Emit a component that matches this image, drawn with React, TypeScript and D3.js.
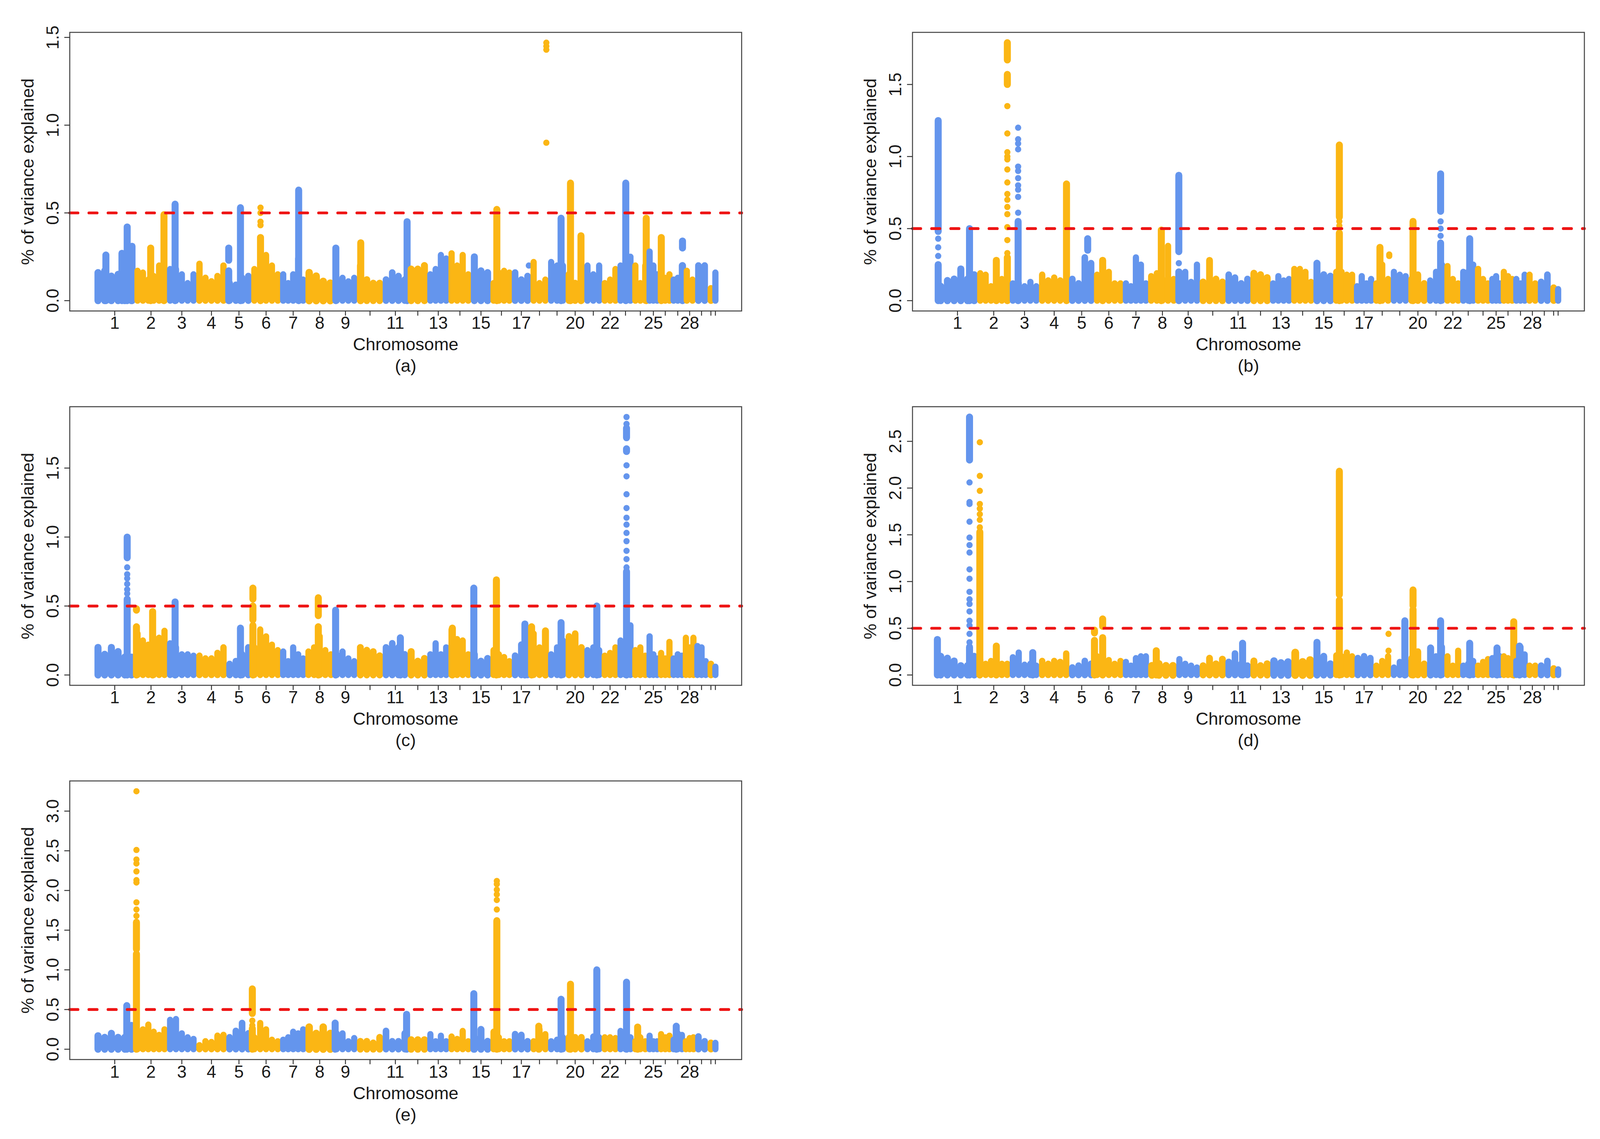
import * as d3 from 'd3';

// chromosome widths along the x axis (marker index units), chr 1..31
const chrWidths = [103, 83, 75, 77, 64, 75, 64, 72, 60, 66, 64, 51, 54, 57, 51, 54, 48, 45, 45, 48, 45, 41, 38, 38, 29, 32, 32, 29, 32, 16, 7];
const shownLabels = [1, 2, 3, 4, 5, 6, 7, 8, 9, 11, 13, 15, 17, 20, 22, 25, 28];
const threshold = 0.5;

// band heights: evenly spaced columns inside each chromosome
const bandA = [
  [0.16, 0.17, 0.14, 0.15, 0.17, 0.16], [0.17, 0.16, 0.12, 0.14, 0.2, 0.17], [0.18, 0.18, 0.15, 0.1, 0.15],
  [0.21, 0.13, 0.11, 0.14, 0.2], [0.1, 0.09, 0.13, 0.14], [0.18, 0.24, 0.26, 0.2, 0.15], [0.15, 0.1, 0.15, 0.24, 0.12],
  [0.16, 0.14, 0.11, 0.1], [0.12, 0.13, 0.11, 0.13], [0.2, 0.12, 0.1, 0.1], [0.12, 0.16, 0.14, 0.12], [0.18, 0.18, 0.2],
  [0.15, 0.18, 0.26, 0.24], [0.27, 0.2, 0.26, 0.15], [0.25, 0.17, 0.16], [0.1, 0.16, 0.17, 0.16], [0.16, 0.12, 0.14],
  [0.22, 0.1, 0.12], [0.22, 0.2, 0.2], [0.15, 0.1, 0.15], [0.2, 0.15, 0.2], [0.1, 0.12, 0.18], [0.2, 0.18, 0.25],
  [0.2, 0.1, 0.2], [0.28, 0.2, 0.15], [0.15, 0.13, 0.15], [0.12, 0.13, 0.2], [0.17, 0.12], [0.2, 0.2], [0.07], [0.16],
];
const bandB = [
  [0.1, 0.14, 0.15, 0.22, 0.15, 0.18], [0.19, 0.18, 0.1, 0.15, 0.15, 0.12], [0.12, 0.12, 0.1, 0.13, 0.1],
  [0.18, 0.14, 0.16, 0.14, 0.15], [0.15, 0.12, 0.3, 0.26], [0.18, 0.24, 0.2, 0.12, 0.12], [0.12, 0.1, 0.3, 0.25, 0.12],
  [0.17, 0.19, 0.15, 0.38, 0.15], [0.2, 0.2, 0.13, 0.25], [0.13, 0.28, 0.15, 0.13], [0.18, 0.16, 0.12, 0.15], [0.19, 0.18, 0.16],
  [0.12, 0.17, 0.14, 0.15], [0.22, 0.22, 0.2, 0.13], [0.1, 0.18, 0.17], [0.2, 0.2, 0.18, 0.18], [0.1, 0.17, 0.12, 0.15],
  [0.12, 0.25, 0.15], [0.2, 0.18, 0.17], [0.15, 0.18, 0.12], [0.14, 0.2, 0.25], [0.24, 0.15, 0.12], [0.2, 0.2, 0.25],
  [0.22, 0.15, 0.12], [0.15, 0.17, 0.12], [0.2, 0.17, 0.15], [0.15, 0.12, 0.18], [0.18, 0.12], [0.13, 0.18], [0.09], [0.08],
];
const bandC = [
  [0.2, 0.15, 0.2, 0.17, 0.13, 0.13], [0.3, 0.25, 0.22, 0.27, 0.27, 0.32], [0.23, 0.2, 0.15, 0.15, 0.14],
  [0.14, 0.12, 0.12, 0.16, 0.2], [0.08, 0.1, 0.15, 0.2], [0.2, 0.33, 0.28, 0.22, 0.18], [0.17, 0.1, 0.2, 0.15, 0.12],
  [0.17, 0.2, 0.28, 0.18, 0.15], [0.15, 0.17, 0.12, 0.1], [0.2, 0.18, 0.17, 0.14], [0.2, 0.23, 0.2, 0.15], [0.17, 0.1, 0.12],
  [0.15, 0.23, 0.15, 0.2], [0.33, 0.26, 0.25, 0.15], [0.15, 0.1, 0.12], [0.18, 0.15, 0.13, 0.1], [0.14, 0.22, 0.18],
  [0.3, 0.2, 0.3], [0.15, 0.2, 0.25], [0.28, 0.3, 0.2], [0.18, 0.2, 0.18], [0.14, 0.16, 0.2], [0.25, 0.2, 0.36],
  [0.18, 0.2, 0.14], [0.28, 0.15, 0.12], [0.16, 0.12, 0.24], [0.12, 0.15, 0.14], [0.27, 0.2, 0.27], [0.21, 0.2, 0.1], [0.08], [0.06],
];
const bandD = [
  [0.2, 0.18, 0.15, 0.1, 0.1, 0.2], [0.16, 0.12, 0.15, 0.12, 0.12, 0.12], [0.19, 0.24, 0.11, 0.12, 0.1],
  [0.15, 0.12, 0.15, 0.14, 0.23], [0.08, 0.1, 0.15, 0.12], [0.2, 0.2, 0.16, 0.12, 0.15], [0.14, 0.1, 0.18, 0.2, 0.2],
  [0.1, 0.12, 0.1, 0.1], [0.17, 0.12, 0.1, 0.08], [0.1, 0.18, 0.12, 0.17], [0.14, 0.23, 0.12, 0.1], [0.15, 0.1, 0.12],
  [0.15, 0.13, 0.14], [0.24, 0.14, 0.16], [0.12, 0.2, 0.12], [0.21, 0.2, 0.24, 0.2], [0.18, 0.2, 0.18],
  [0.1, 0.15, 0.2], [0.08, 0.14, 0.15], [0.18, 0.25, 0.12], [0.12, 0.2, 0.3], [0.2, 0.1, 0.26], [0.1, 0.12, 0.15],
  [0.1, 0.14, 0.17], [0.18, 0.2, 0.2], [0.2, 0.18, 0.15], [0.15, 0.3, 0.22], [0.1, 0.1], [0.1, 0.15], [0.07], [0.06],
];
const bandE = [
  [0.17, 0.15, 0.2, 0.15, 0.15, 0.3], [0.2, 0.25, 0.31, 0.22, 0.18, 0.25], [0.37, 0.38, 0.2, 0.15, 0.13],
  [0.05, 0.1, 0.09, 0.17, 0.18], [0.15, 0.23, 0.33, 0.2], [0.15, 0.33, 0.25, 0.12, 0.1], [0.12, 0.15, 0.22, 0.2, 0.25],
  [0.28, 0.2, 0.28, 0.2], [0.2, 0.2, 0.1, 0.14], [0.1, 0.1, 0.08, 0.15], [0.23, 0.1, 0.1, 0.2], [0.12, 0.12, 0.12],
  [0.19, 0.1, 0.17, 0.1], [0.16, 0.13, 0.23, 0.1], [0.15, 0.25, 0.1], [0.22, 0.15, 0.1, 0.1], [0.19, 0.18, 0.1],
  [0.1, 0.25, 0.19], [0.1, 0.12, 0.15], [0.15, 0.15, 0.15], [0.1, 0.16, 0.15], [0.15, 0.15, 0.14], [0.23, 0.2, 0.15],
  [0.1, 0.15, 0.1], [0.17, 0.1, 0.1], [0.19, 0.15, 0.17], [0.12, 0.2, 0.18], [0.1, 0.14, 0.15], [0.16, 0.1], [0.08], [0.08],
];

// runs of stacked markers: [chromosome, position within chromosome, from, to]
const runsA = [
  [1, 0.28, 0, 0.26], [1, 0.68, 0, 0.27], [1, 0.81, 0, 0.42], [1, 0.93, 0, 0.31], [2, 0.49, 0, 0.3], [2, 0.9, 0, 0.49],
  [3, 0.27, 0, 0.55], [5, 0.09, 0, 0.17], [5, 0.09, 0.23, 0.3], [5, 0.56, 0, 0.53], [6, 0.31, 0, 0.36], [7, 0.72, 0, 0.63],
  [9, 0.09, 0, 0.3], [10, 0.14, 0, 0.33], [11, 0.97, 0, 0.45], [16, 0.28, 0, 0.52], [19, 0.73, 0, 0.47], [20, 0.25, 0, 0.67],
  [20, 0.81, 0, 0.37], [23, 0.52, 0, 0.67], [24, 0.9, 0, 0.47], [26, 0.18, 0, 0.36], [27, 0.88, 0, 0.2], [27, 0.88, 0.3, 0.34],
];
const runsB = [
  [1, 0.02, 0, 0.25], [1, 0.02, 0.48, 1.25], [1, 0.8, 0, 0.5], [2, 0.58, 0, 0.28], [2, 0.92, 0, 0.3], [2, 0.92, 1.5, 1.57],
  [2, 0.92, 1.67, 1.79], [3, 0.28, 0, 0.55], [4, 0.91, 0, 0.81], [5, 0.74, 0.35, 0.43], [6, 0.29, 0, 0.28], [8, 0.46, 0, 0.49],
  [9, 0.1, 0, 0.2], [9, 0.1, 0.34, 0.87], [15, 0.16, 0, 0.26], [16, 0.27, 0, 0.47], [16, 0.27, 0.58, 1.08], [18, 0.37, 0, 0.37],
  [20, 0.24, 0, 0.55], [21, 0.76, 0, 0.4], [21, 0.76, 0.62, 0.88], [23, 0.6, 0, 0.43],
];
const runsC = [
  [1, 0.81, 0, 0.55], [1, 0.81, 0.85, 1.0], [2, 0.05, 0, 0.35], [2, 0.05, 0.47, 0.48], [2, 0.55, 0, 0.46], [3, 0.27, 0, 0.53],
  [5, 0.56, 0, 0.34], [6, 0.05, 0, 0.36], [6, 0.05, 0.4, 0.5], [6, 0.05, 0.55, 0.63], [8, 0.45, 0, 0.35], [8, 0.45, 0.43, 0.56],
  [9, 0.08, 0, 0.47], [11, 0.7, 0, 0.27], [14, 0.16, 0, 0.34], [15, 0.14, 0, 0.63], [16, 0.26, 0, 0.69], [17, 0.69, 0, 0.37],
  [18, 0.05, 0, 0.35], [18, 0.84, 0, 0.32], [19, 0.73, 0, 0.38], [21, 0.7, 0, 0.5], [23, 0.57, 0, 0.75], [23, 0.57, 1.62, 1.64],
  [23, 0.57, 1.72, 1.79],
];
const runsD = [
  [1, 0.0, 0, 0.38], [1, 0.8, 0, 0.3], [1, 0.8, 2.3, 2.76], [2, 0.07, 0, 1.53], [2, 0.58, 0, 0.31], [3, 0.78, 0, 0.24],
  [6, 0.01, 0, 0.37], [6, 0.01, 0.45, 0.48], [6, 0.29, 0, 0.4], [6, 0.29, 0.52, 0.6], [8, 0.28, 0, 0.26], [11, 0.68, 0, 0.34],
  [15, 0.16, 0, 0.35], [16, 0.27, 0, 0.8], [16, 0.27, 0.86, 2.18], [19, 0.79, 0, 0.58], [20, 0.24, 0, 0.7], [20, 0.24, 0.74, 0.91],
  [21, 0.19, 0, 0.29], [21, 0.76, 0, 0.58], [23, 0.6, 0, 0.34], [25, 0.58, 0, 0.29], [26, 0.96, 0, 0.57], [27, 0.42, 0, 0.31],
];
const runsE = [
  [1, 0.8, 0, 0.55], [2, 0.05, 0, 1.2], [2, 0.05, 1.26, 1.6], [6, 0.03, 0, 0.26], [6, 0.03, 0.45, 0.76], [9, 0.06, 0, 0.33],
  [11, 0.95, 0, 0.44], [15, 0.14, 0, 0.7], [16, 0.28, 0, 1.62], [18, 0.46, 0, 0.29], [19, 0.73, 0, 0.63], [20, 0.25, 0, 0.82],
  [21, 0.7, 0, 1.0], [23, 0.57, 0, 0.845], [24, 0.32, 0, 0.28], [27, 0.38, 0, 0.29],
];

// isolated markers: [chromosome, position within chromosome, values]
const dotsA = [[18, 0.89, [1.47, 1.45, 1.43, 0.9]], [6, 0.31, [0.43, 0.45, 0.5, 0.53]], [17, 0.9, [0.2]]];
const dotsB = [
  [1, 0.02, [0.31, 0.37, 0.43]],
  [2, 0.92, [0.33, 0.42, 0.51, 0.6, 0.65, 0.7, 0.74, 0.82, 0.91, 0.98, 1.0, 1.03, 1.16, 1.35]],
  [3, 0.28, [0.61, 0.72, 0.77, 0.8, 0.85, 0.9, 0.93, 1.05, 1.09, 1.12, 1.2]],
  [9, 0.1, [0.26]], [16, 0.27, [0.52, 0.55]], [18, 0.9, [0.31, 0.32]], [21, 0.76, [0.45, 0.5, 0.55]],
];
const dotsC = [
  [1, 0.81, [0.59, 0.62, 0.66, 0.7, 0.73, 0.78]],
  [23, 0.57, [0.78, 0.84, 0.9, 0.97, 1.03, 1.09, 1.14, 1.21, 1.31, 1.44, 1.52, 1.82, 1.87]],
];
const dotsD = [
  [1, 0.8, [0.35, 0.44, 0.53, 0.58, 0.68, 0.76, 0.81, 0.89, 1.03, 1.13, 1.31, 1.39, 1.47, 1.64, 1.83, 1.85, 2.06]],
  [2, 0.07, [1.58, 1.66, 1.72, 1.78, 1.83, 1.97, 2.13, 2.49]],
  [18, 0.86, [0.26, 0.44]],
];
const dotsE = [
  [2, 0.05, [1.68, 1.76, 1.85, 2.1, 2.13, 2.24, 2.34, 2.39, 2.51, 3.25]],
  [6, 0.03, [0.3, 0.36]],
  [16, 0.28, [1.76, 1.88, 1.95, 2.01, 2.08, 2.12]],
];

type Run = number[];
type Dot = [number, number, number[]];

const BLUE = '#6495ED';
const GOLD = '#FBB614';
const FONT = "'Liberation Sans', Arial, Helvetica, sans-serif";
const W = 1720;
const H = 713.5;
const R = 8;

interface PanelProps {
  band: number[][];
  runs: Run[];
  dots: any[];
  tag: string;
  left: number;
  top: number;
}

function Manhattan({ band, runs, dots, tag, left, top }: PanelProps) {
  const starts = Array.from(d3.cumsum([0, ...chrWidths]));
  const total = starts[chrWidths.length];
  const x = d3.scaleLinear().domain([-0.04 * total, 1.04 * total]).range([0, W]);
  const maxV = d3.max([...band.flat(), ...runs.map(r => r[3]), ...dots.flatMap((d: Dot) => d[2])]) as number;
  const y = d3.scaleLinear().domain([-0.04 * maxV, 1.04 * maxV]).range([H, 0]);
  const yTicks = d3.range(0, y.domain()[1] + 1e-9, 0.5);
  const posX = (chr: number, frac: number) => x(starts[chr - 1] + frac * chrWidths[chr - 1]);

  return (
    <g transform={`translate(${left},${top})`}>
      {chrWidths.map((w, i) => {
        const color = i % 2 === 0 ? BLUE : GOLD;
        const cols = band[i];
        const cw = w / cols.length;
        const sw = Math.max(2 * R, x(cw) - x(0) + 1);
        return (
          <g key={i}>
            {cols.map((h, j) => {
              const cx = x(starts[i] + (j + 0.5) * cw);
              return <line key={j} x1={cx} x2={cx} y1={y(0)} y2={y(h)} stroke={color} strokeWidth={sw} strokeLinecap="round" />;
            })}
            {runs.filter(r => r[0] === i + 1).map((r, k) => (
              <line key={'r' + k} x1={posX(r[0], r[1])} x2={posX(r[0], r[1])} y1={y(r[2])} y2={y(r[3])}
                stroke={color} strokeWidth={2 * R + 2} strokeLinecap="round" />
            ))}
            {dots.filter((d: Dot) => d[0] === i + 1).flatMap((d: Dot, k: number) =>
              d[2].map((v, m) => <circle key={`d${k}-${m}`} cx={posX(d[0], d[1])} cy={y(v)} r={R} fill={color} />)
            )}
          </g>
        );
      })}
      <line x1={0} x2={W} y1={y(threshold)} y2={y(threshold)} stroke="#ee1414" strokeWidth={7.2}
        strokeDasharray="21 28" strokeLinecap="round" />
      <rect x={0} y={0} width={W} height={H} fill="none" stroke="#454545" strokeWidth={2.6} />
      {yTicks.map(t => (
        <g key={t}>
          <line x1={-14} x2={0} y1={y(t)} y2={y(t)} stroke="#333" strokeWidth={2.4} />
          <text transform={`translate(-29,${y(t)}) rotate(-90)`} textAnchor="middle" fontSize={44} fill="#1a1a1a">
            {d3.format('.1f')(t)}
          </text>
        </g>
      ))}
      {chrWidths.map((w, i) => {
        const cx = x(starts[i] + w / 2);
        return (
          <g key={'t' + i}>
            <line x1={cx} x2={cx} y1={H} y2={H + 12} stroke="#333" strokeWidth={2.4} />
            {shownLabels.includes(i + 1) && (
              <text x={cx} y={H + 46} textAnchor="middle" fontSize={44} fill="#1a1a1a">{i + 1}</text>
            )}
          </g>
        );
      })}
      <text transform={`translate(-93,${H / 2}) rotate(-90)`} textAnchor="middle" fontSize={45} fill="#1a1a1a">
        % of variance explained
      </text>
      <text x={W / 2} y={H + 101} textAnchor="middle" fontSize={45} fill="#1a1a1a">Chromosome</text>
      <text x={W / 2} y={H + 156} textAnchor="middle" fontSize={45} fill="#1a1a1a">{tag}</text>
    </g>
  );
}

const colLeft = [178.6, 2336];
const rowTop = [82.9, 1041.6, 2000];

export default function App() {
  const panels = [
    { tag: '(a)', band: bandA, runs: runsA, dots: dotsA, c: 0, r: 0 },
    { tag: '(b)', band: bandB, runs: runsB, dots: dotsB, c: 1, r: 0 },
    { tag: '(c)', band: bandC, runs: runsC, dots: dotsC, c: 0, r: 1 },
    { tag: '(d)', band: bandD, runs: runsD, dots: dotsD, c: 1, r: 1 },
    { tag: '(e)', band: bandE, runs: runsE, dots: dotsE, c: 0, r: 2 },
  ];
  return (
    <svg width={4113} height={2917} style={{ position: 'absolute', left: 0, top: 0, background: '#fff' }}
      fontFamily={FONT}>
      <rect width={4113} height={2917} fill="#fff" />
      {panels.map(p => (
        <Manhattan key={p.tag} tag={p.tag} band={p.band} runs={p.runs} dots={p.dots}
          left={colLeft[p.c]} top={rowTop[p.r]} />
      ))}
    </svg>
  );
}
